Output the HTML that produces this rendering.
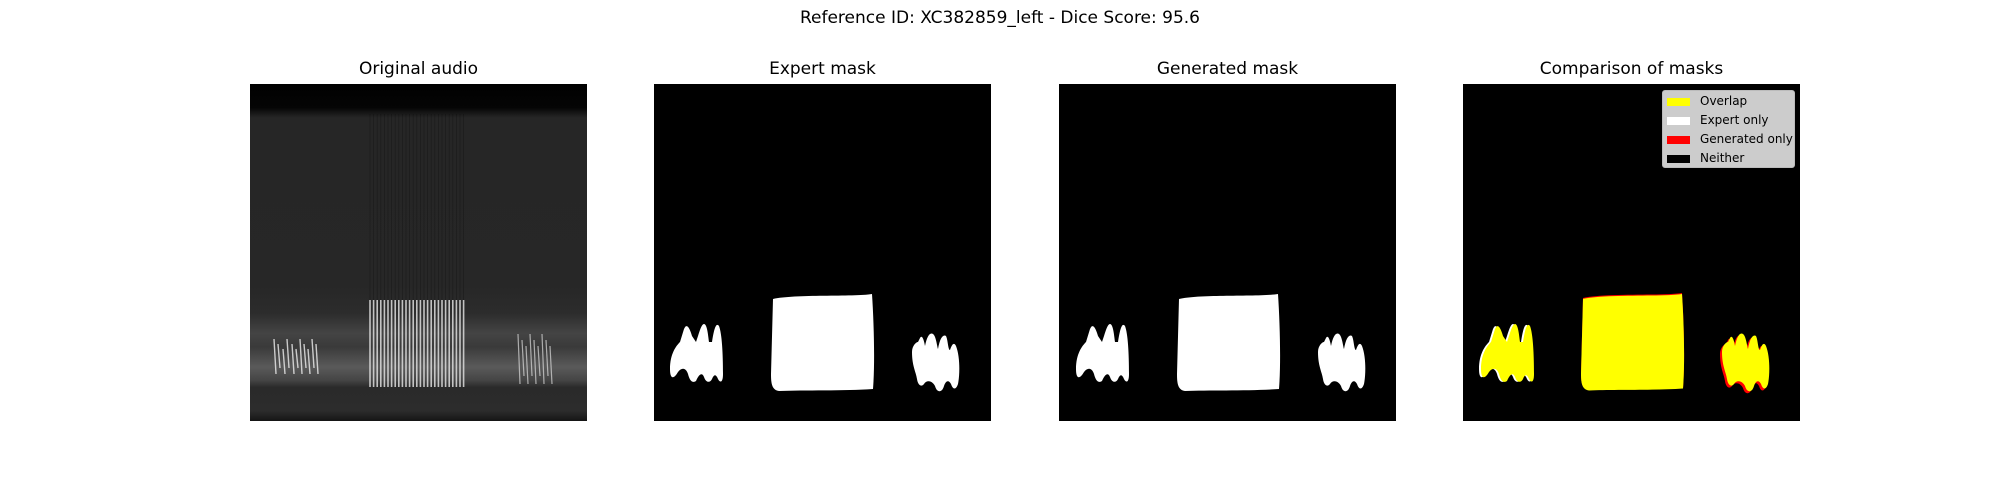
<!DOCTYPE html>
<html><head><meta charset="utf-8">
<style>
body{margin:0;background:#fff;font-family:"Liberation Sans","DejaVu Sans",sans-serif;}
#wrap{position:relative;width:2000px;height:500px;overflow:hidden;background:#fff}
.t{position:absolute;font-family:"DejaVu Sans","Liberation Sans",sans-serif;color:#000;text-align:center}
</style></head>
<body>
<div id="wrap">
<div class="t" style="left:0;width:2000px;top:8px;font-size:17px">Reference ID: XC382859_left - Dice Score: 95.6</div>
<div class="t" style="left:250px;width:337px;top:59px;font-size:17px">Original audio</div>
<div class="t" style="left:654px;width:337px;top:59px;font-size:17px">Expert mask</div>
<div class="t" style="left:1059px;width:337px;top:59px;font-size:17px">Generated mask</div>
<div class="t" style="left:1463px;width:337px;top:59px;font-size:17px">Comparison of masks</div>
<svg id="svg" width="2000" height="500" style="position:absolute;left:0;top:0">
<defs>
<linearGradient id="spg" x1="0" y1="0" x2="0" y2="1">
<stop offset="0" stop-color="#000"/>
<stop offset="0.07" stop-color="#050505"/>
<stop offset="0.1" stop-color="#262626"/>
<stop offset="0.6" stop-color="#272727"/>
<stop offset="0.68" stop-color="#2c2c2c"/>
<stop offset="0.74" stop-color="#444"/>
<stop offset="0.78" stop-color="#3a3a3a"/>
<stop offset="0.84" stop-color="#5a5a5a"/>
<stop offset="0.88" stop-color="#444"/>
<stop offset="0.9" stop-color="#2a2a2a"/>
<stop offset="0.97" stop-color="#2c2c2c"/>
<stop offset="1" stop-color="#151515"/>
</linearGradient>
</defs>
<g id="ax1" transform="translate(250,84)">
<rect width="337" height="337" fill="url(#spg)"/>
<g id="stripes"></g>
</g>
<g id="ax2" transform="translate(654,84)"><rect width="337" height="337" fill="#000"/></g>
<g id="ax3" transform="translate(1059,84)"><rect width="337" height="337" fill="#000"/></g>
<g id="ax4" transform="translate(1463,84)"><rect width="337" height="337" fill="#000"/></g>
</svg>
<div style="position:absolute;left:1662px;top:90px;width:131px;height:76px;background:#ccc;border:1px solid #bbb;border-radius:3px;font-family:'DejaVu Sans','Liberation Sans',sans-serif;font-size:12px;color:#000">
 <div style="position:absolute;left:4px;top:3px;white-space:nowrap"><span style="display:inline-block;width:23px;height:8px;background:#ff0;vertical-align:middle;margin-right:10px"></span>Overlap</div>
 <div style="position:absolute;left:4px;top:22px;white-space:nowrap"><span style="display:inline-block;width:23px;height:8px;background:#fff;vertical-align:middle;margin-right:10px"></span>Expert only</div>
 <div style="position:absolute;left:4px;top:41px;white-space:nowrap"><span style="display:inline-block;width:23px;height:8px;background:#f00;vertical-align:middle;margin-right:10px"></span>Generated only</div>
 <div style="position:absolute;left:4px;top:60px;white-space:nowrap"><span style="display:inline-block;width:23px;height:8px;background:#000;vertical-align:middle;margin-right:10px"></span>Neither</div>
</div>
</div>
<script>
const NS="http://www.w3.org/2000/svg";
const blobL="M16,285 C16,270 22,262 26,258 L30,245 C33,238 36,245 38,252 L42,258 C45,250 47,240 50,240 C53,240 54,250 55,258 L58,258 C60,245 62,238 65,242 C68,250 69,270 69,290 C69,299 66,299 64,295 C62,290 60,290 58,295 C56,299 52,299 50,293 C48,288 45,290 42,297 C39,299 36,298 34,290 C32,284 28,283 24,288 C20,295 16,296 16,285 Z";
const box="M119,215 C140,210 200,213 218,210 C220,240 221,280 219,305 C190,307 150,306 125,307 C118,306 117,300 117,290 Z";
const blobR="M258,268 C258,262 262,258 264,258 L266,254 C268,250 270,256 271,262 C273,252 276,248 279,250 C282,252 283,262 284,265 C286,254 289,250 292,252 C294,256 294,266 296,266 C298,260 300,258 302,262 C306,272 306,290 304,300 C302,306 299,306 297,300 C295,296 292,296 290,302 C288,309 283,309 281,302 C278,296 272,296 270,300 C268,303 264,302 263,295 C262,288 258,282 258,268 Z";
function add(g,d,fill,tr,name){const p=document.createElementNS(NS,'path');p.setAttribute('d',d);p.setAttribute('fill',fill);if(tr)p.setAttribute('transform',tr);


g.appendChild(p);}
[['ax2',''],['ax3','translate(1,0)']].forEach(([id,tr])=>{const g=document.getElementById(id);
add(g,blobL,'#fff',tr,'mask-region-left');add(g,box,'#fff',tr,'mask-region-center');add(g,blobR,'#fff',tr,'mask-region-right');});
const g4=document.getElementById('ax4');
add(g4,blobL,'#fff','','expert-only-left');add(g4,blobL,'#ff0','translate(2,0)','overlap-left');
add(g4,box,'#f00','translate(1,-1)','generated-only-center');add(g4,box,'#ff0','translate(1,1) scale(1,0.995)','overlap-center');
add(g4,blobR,'#f00','translate(-1,2)','generated-only-right');add(g4,blobR,'#ff0','translate(1,0)','overlap-right');
// spectrogram stripes (calls)
const sg=document.getElementById('stripes');
function line(x1,y1,x2,y2,c,w,o){const l=document.createElementNS(NS,'line');l.setAttribute('x1',x1);l.setAttribute('y1',y1);l.setAttribute('x2',x2);l.setAttribute('y2',y2);l.setAttribute('stroke',c);l.setAttribute('stroke-width',w);l.setAttribute('opacity',o);


sg.appendChild(l);}
for(let x=120;x<215;x+=3.6){line(x,216,x,303,'#ddd',1.6,0.85);line(x,30,x,216,'#000',0.8,0.25);}
const lx=[24,28,33,37,42,46,50,54,58,62,66];
lx.forEach((x,i)=>line(x,255+(i%3)*5,x+2,290-(i%2)*6,'#eee',1.4,0.8));
const rx=[268,272,276,280,284,288,292,296,300];
rx.forEach((x,i)=>line(x,250+(i%3)*6,x+2,300-(i%2)*8,'#ddd',1.2,0.7));
</script>
</body></html>
